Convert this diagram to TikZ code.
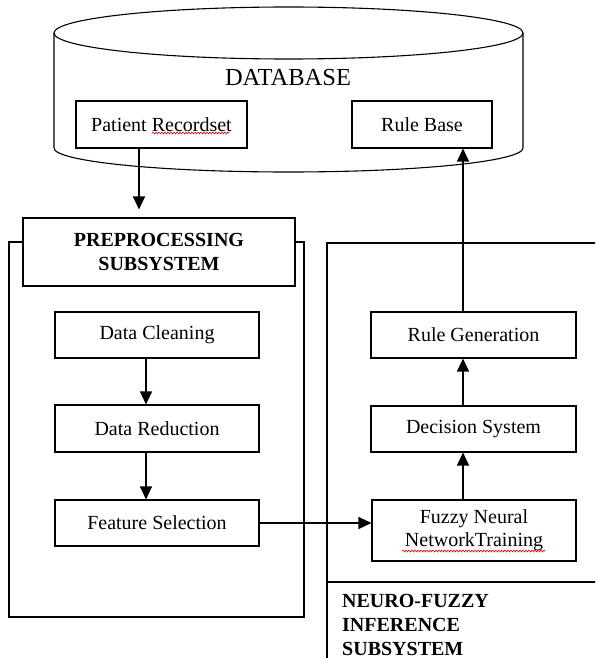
\documentclass[tikz,border=0pt]{standalone}
\usepackage{fontspec}
\setmainfont{Liberation Serif}
\usetikzlibrary{arrows.meta,decorations.pathmorphing,calc}
\begin{document}
\begin{tikzpicture}[x=1pt,y=-1pt,
  frame/.style={draw,line width=1.1pt},
  box/.style={draw,line width=1.1pt,fill=white,inner sep=0pt,align=center,
    font=\fontsize{20}{23}\selectfont},
  arr/.style={line width=1.2pt,-{Triangle[length=13pt,width=12pt]}},
  spell/.style={draw=red!85!black,line width=0.6pt,decorate,
    decoration={snake,amplitude=0.9pt,segment length=3pt}},
  title/.style={font=\fontsize{20}{24}\selectfont\bfseries,inner sep=0pt,align=left}
]
\useasboundingbox (0,0) rectangle (595,658);
\clip (0,0) rectangle (595,658);

% database cylinder
\draw[frame] (288.5,33) ellipse [x radius=234.5, y radius=26];
\draw[frame] (54,33) -- (54,148)
  .. controls (54,161.3) and (159,172) .. (288.5,172)
  .. controls (418,172) and (523,161.3) .. (523,148) -- (523,33);
\node[font=\fontsize{24.5}{28}\selectfont] (db) at (288,78) {DATABASE};

\node[box,minimum width=171pt,minimum height=47pt] (pr) at (161.5,124.5) {Patient Recordset};
\node[box,minimum width=140pt,minimum height=47pt] (rb) at (422,124.5) {Rule Base};

% preprocessing subsystem
\draw[frame] (9,242) rectangle (304,617);
\node[box,minimum width=272pt,minimum height=68pt,
  font=\fontsize{20}{24}\selectfont\bfseries] (pre) at (159,252) {PREPROCESSING\\SUBSYSTEM};
\node[box,minimum width=204pt,minimum height=46pt] (dc) at (157,335) {Data Cleaning};
\node[box,minimum width=204pt,minimum height=47pt] (dr) at (157,428.5) {Data Reduction};
\node[box,minimum width=204pt,minimum height=46pt] (fs) at (157,523) {Feature Selection};

% neuro-fuzzy inference subsystem
\draw[frame] (600,243) -- (327,243) -- (327,665);
\draw[frame] (327,582) -- (600,582);
\node[title,anchor=north west] (nf) at (342,594) {NEURO-FUZZY\\INFERENCE\\SUBSYSTEM};
\node[box,minimum width=205pt,minimum height=46pt] (rg) at (473.5,335) {Rule Generation};
\node[box,minimum width=205pt,minimum height=46pt] (ds) at (473.5,429) {Decision System};
\node[box,minimum width=204pt,minimum height=61pt] (fz) at (474,530.5) {Fuzzy Neural\\NetworkTraining};

% spell-check underlines
\draw[spell] (152,133) -- (229,133);
\draw[spell] (402,551) -- (545,551);

% connectors
\coordinate (pcol) at (139,0);
\coordinate (lcol) at (146,0);
\coordinate (rcol) at (463,0);
\draw[arr,shorten >=8pt] (pr.south -| pcol) -- (pre.north -| pcol);
\draw[arr] (dc.south -| lcol) -- (dr.north -| lcol);
\draw[arr] (dr.south -| lcol) -- (fs.north -| lcol);
\draw[arr] (fs.east) -- (fs.east -| fz.west);
\draw[arr] (fz.north -| rcol) -- (ds.south -| rcol);
\draw[arr] (ds.north -| rcol) -- (rg.south -| rcol);
\draw[arr] (rg.north -| rcol) -- (rb.south -| rcol);
\end{tikzpicture}
\end{document}
